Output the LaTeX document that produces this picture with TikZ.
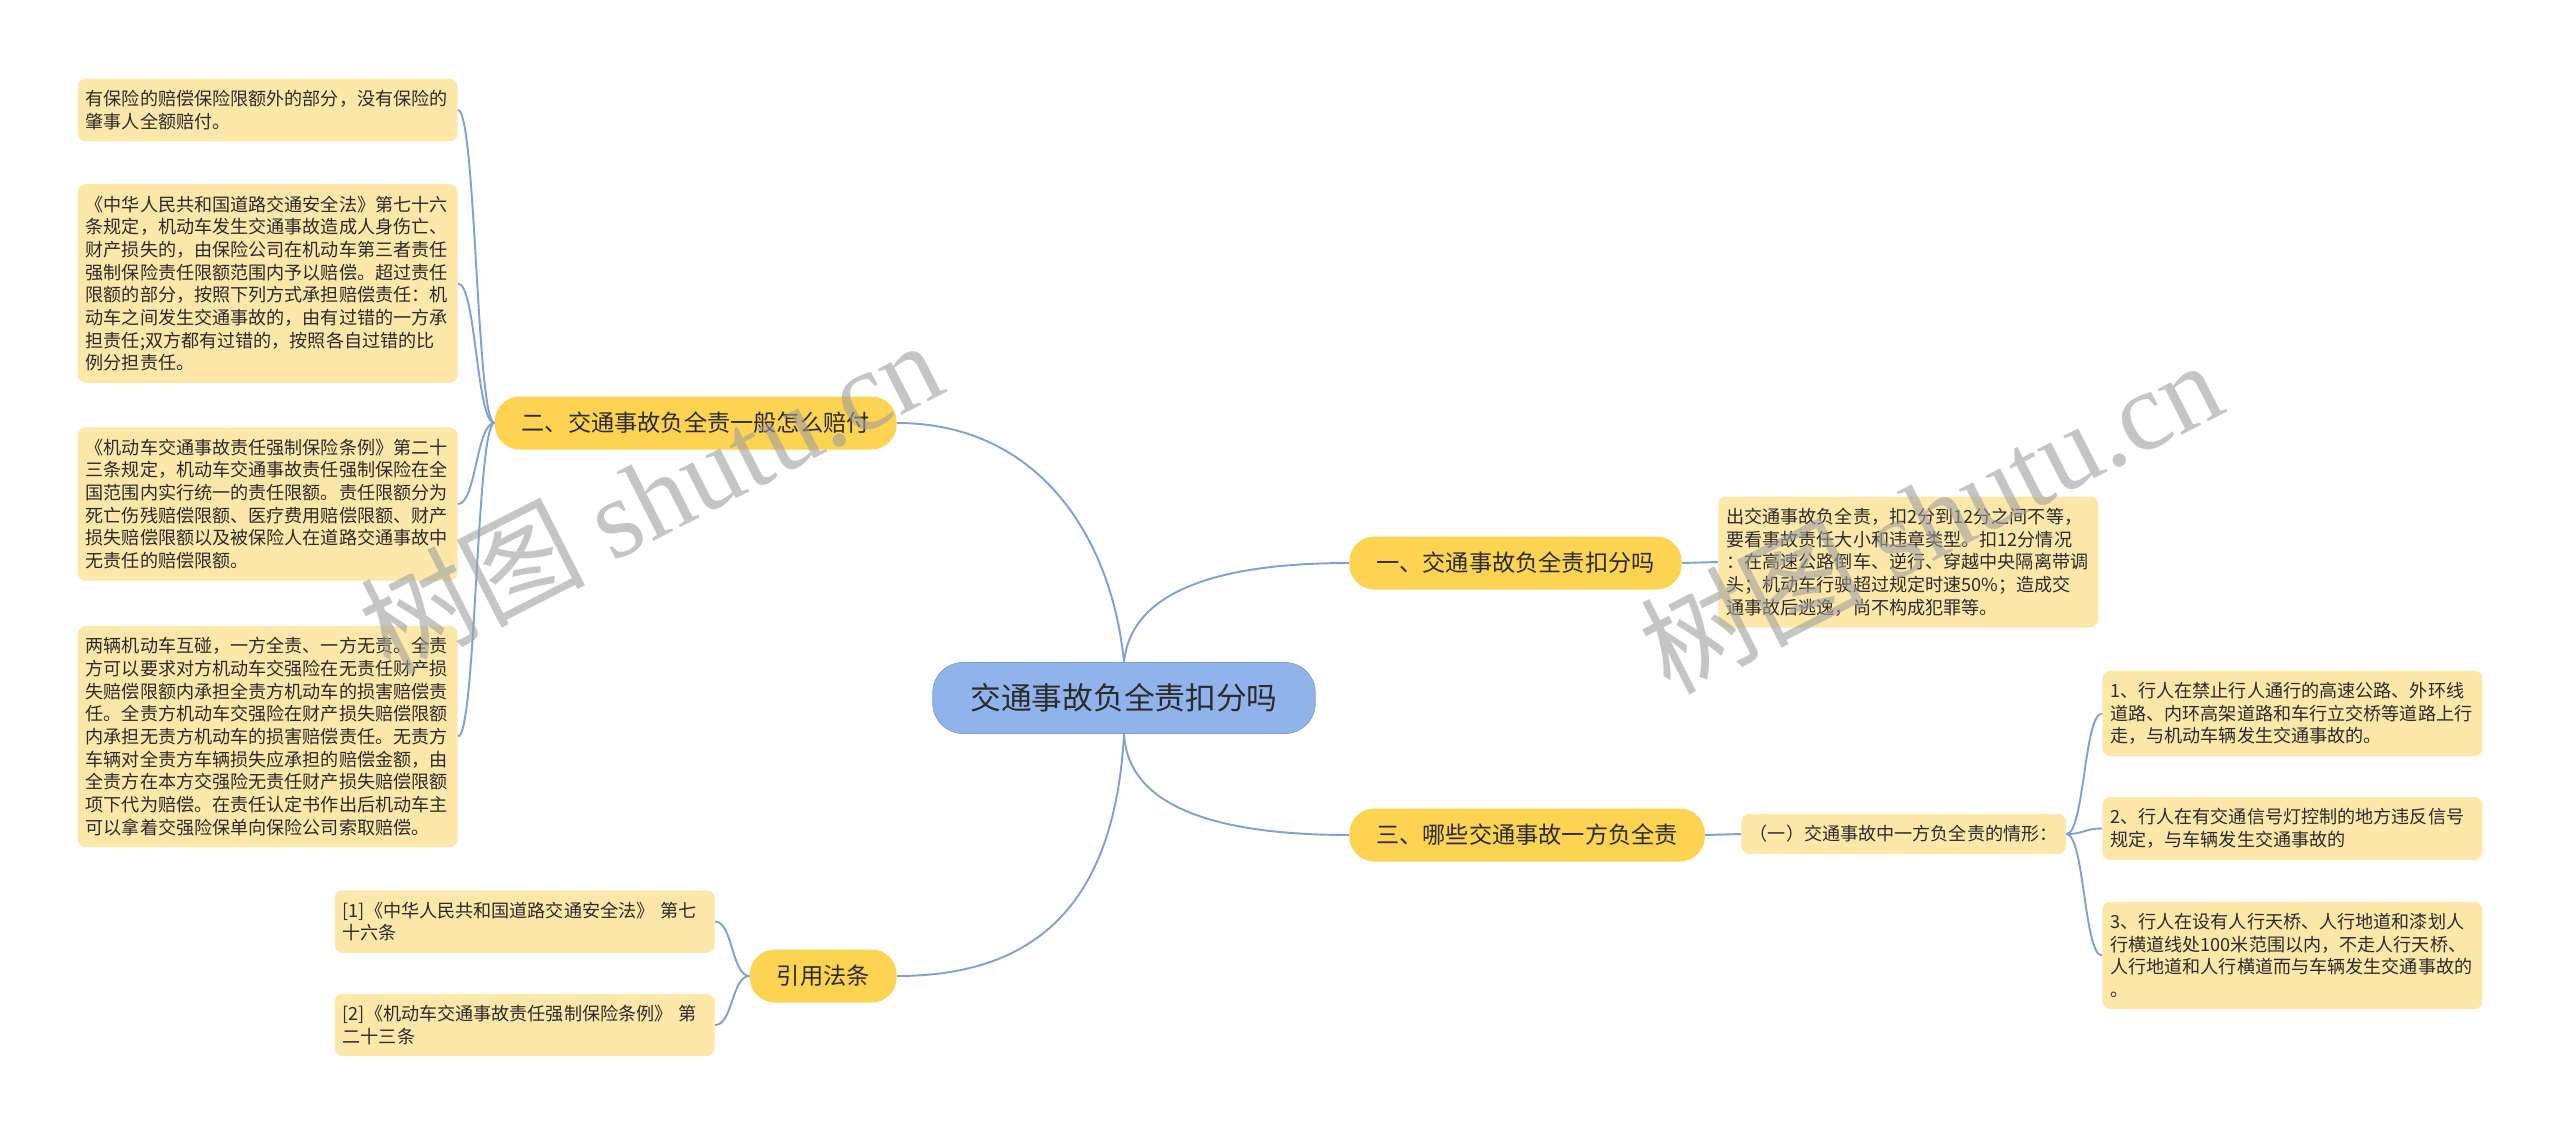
\documentclass[tikz,border=0pt]{standalone}
\usepackage{fontspec}
\setmainfont{Noto Sans CJK SC}
\newfontfamily\wmlatin{Liberation Serif}
\usepackage{tikz}
\usetikzlibrary{positioning}
\definecolor{linkblue}{HTML}{80A1D8}
\definecolor{rootblue}{HTML}{8FB3EA}
\definecolor{topicgold}{HTML}{FDD352}
\definecolor{notecream}{HTML}{FDE8AA}
\definecolor{inkgray}{HTML}{2B2B2B}

\begin{document}
\begin{tikzpicture}[x=0.02cm,y=-0.02cm,
  root/.style={fill=rootblue,draw=rootblue!88!black,line width=0.4pt,rounded corners=0.6cm,
    minimum height=1.42cm,inner xsep=0.75cm,text=inkgray,font=\fontsize{17.5pt}{21pt}\selectfont},
  topic/.style={fill=topicgold,rounded corners=0.5cm,minimum height=1.06cm,inner xsep=0.54cm,
    text=inkgray,font=\fontsize{13.2pt}{16pt}\selectfont},
  note/.style={fill=notecream,rounded corners=0.16cm,text width=7.28cm,inner xsep=0.16cm,
    inner ysep=0.23cm,align=left,text=inkgray,font=\fontsize{10.3pt}{12.9pt}\selectfont},
  subnote/.style={fill=notecream,rounded corners=0.16cm,inner xsep=0.17cm,inner ysep=0.23cm,
    text=inkgray,font=\fontsize{10.3pt}{12.9pt}\selectfont},
  link/.style={draw=linkblue,line width=1.1pt},
  watermark/.style={text=gray!75,opacity=0.6,rotate=27,font=\fontsize{64pt}{64pt}\selectfont}]
  \useasboundingbox (0,0) rectangle (2560,1136);

  % centre and main topics
  \node[root] (root) at (1124,698) {交通事故负全责扣分吗};
  \node[topic,anchor=east] (t2) at (897,423) {二、交通事故负全责一般怎么赔付};
  \node[topic,anchor=west] (t1) at (1349,563) {一、交通事故负全责扣分吗};
  \node[topic,anchor=west] (t3) at (1349,835) {三、哪些交通事故一方负全责};
  \node[topic,anchor=east] (t4) at (897,976) {引用法条};

  % left notes
  \node[note,anchor=east] (n1) at (458,110) {有保险的赔偿保险限额外的部分，没有保险的\\肇事人全额赔付。};
  \node[note,anchor=east] (n2) at (458,283.5) {《中华人民共和国道路交通安全法》第七十六\\
    条规定，机动车发生交通事故造成人身伤亡、\\财产损失的，由保险公司在机动车第三者责任\\
    强制保险责任限额范围内予以赔偿。超过责任\\限额的部分，按照下列方式承担赔偿责任：机\\
    动车之间发生交通事故的，由有过错的一方承\\担责任;双方都有过错的，按照各自过错的比\\
    例分担责任。};
  \node[note,anchor=east] (n3) at (458,504) {《机动车交通事故责任强制保险条例》第二十\\
    三条规定，机动车交通事故责任强制保险在全\\国范围内实行统一的责任限额。责任限额分为\\
    死亡伤残赔偿限额、医疗费用赔偿限额、财产\\损失赔偿限额以及被保险人在道路交通事故中\\
    无责任的赔偿限额。};
  \node[note,anchor=east] (n4) at (458,736.5) {两辆机动车互碰，一方全责、一方无责。全责\\
    方可以要求对方机动车交强险在无责任财产损\\失赔偿限额内承担全责方机动车的损害赔偿责\\
    任。全责方机动车交强险在财产损失赔偿限额\\内承担无责方机动车的损害赔偿责任。无责方\\
    车辆对全责方车辆损失应承担的赔偿金额，由\\全责方在本方交强险无责任财产损失赔偿限额\\
    项下代为赔偿。在责任认定书作出后机动车主\\可以拿着交强险保单向保险公司索取赔偿。};
  \node[note,anchor=east] (ref1) at (715,921.5) {[1]《中华人民共和国道路交通安全法》 第七\\十六条};
  \node[note,anchor=east] (ref2) at (715,1025) {[2]《机动车交通事故责任强制保险条例》 第\\二十三条};

  % right notes
  \node[note,anchor=west] (info) at (1718,562) {出交通事故负全责，扣2分到12分之间不等，\\
    要看事故责任大小和违章类型。扣12分情况\\：在高速公路倒车、逆行、穿越中央隔离带调\\
    头；机动车行驶超过规定时速50\%；造成交\\通事故后逃逸，尚不构成犯罪等。};
  \node[subnote,anchor=west] (sub) at (1741,834) {（一）交通事故中一方负全责的情形：};
  \node[note,anchor=west] (r1) at (2102,713.5) {1、行人在禁止行人通行的高速公路、外环线\\
    道路、内环高架道路和车行立交桥等道路上行\\走，与机动车辆发生交通事故的。};
  \node[note,anchor=west] (r2) at (2102,828.5) {2、行人在有交通信号灯控制的地方违反信号\\规定，与车辆发生交通事故的};
  \node[note,anchor=west] (r3) at (2102,955.5) {3、行人在设有人行天桥、人行地道和漆划人\\
    行横道线处100米范围以内，不走人行天桥、\\人行地道和人行横道而与车辆发生交通事故的\\。};

  % connectors
  \draw[link] (root.north) .. controls +(-12,-123) and +(143,0) .. (t2.east);
  \draw[link] (root.north) .. controls +(6,-63) and +(-149,0) .. (t1.west);
  \draw[link] (root.south) .. controls +(3,56) and +(-169,0) .. (t3.west);
  \draw[link] (root.south) .. controls +(-9,166) and +(143,0) .. (t4.east);
  \foreach \n in {n1,n2,n3,n4}
    \draw[link] (t2.west) .. controls +(-18,0) and +(18,0) .. (\n.east);
  \foreach \n in {ref1,ref2}
    \draw[link] (t4.west) .. controls +(-18,0) and +(18,0) .. (\n.east);
  \draw[link] (t1.east) -- (info.west);
  \draw[link] (t3.east) -- (sub.west);
  \foreach \n in {r1,r2,r3}
    \draw[link] (sub.east) .. controls +(18,0) and +(-18,0) .. (\n.west);

  % watermarks
  \node[watermark] (wmleft) at (650,495) {树图 {\wmlatin shutu.cn}};
  \node[watermark] (wmright) at (1930,515) {树图 {\wmlatin shutu.cn}};
\end{tikzpicture}
\end{document}
